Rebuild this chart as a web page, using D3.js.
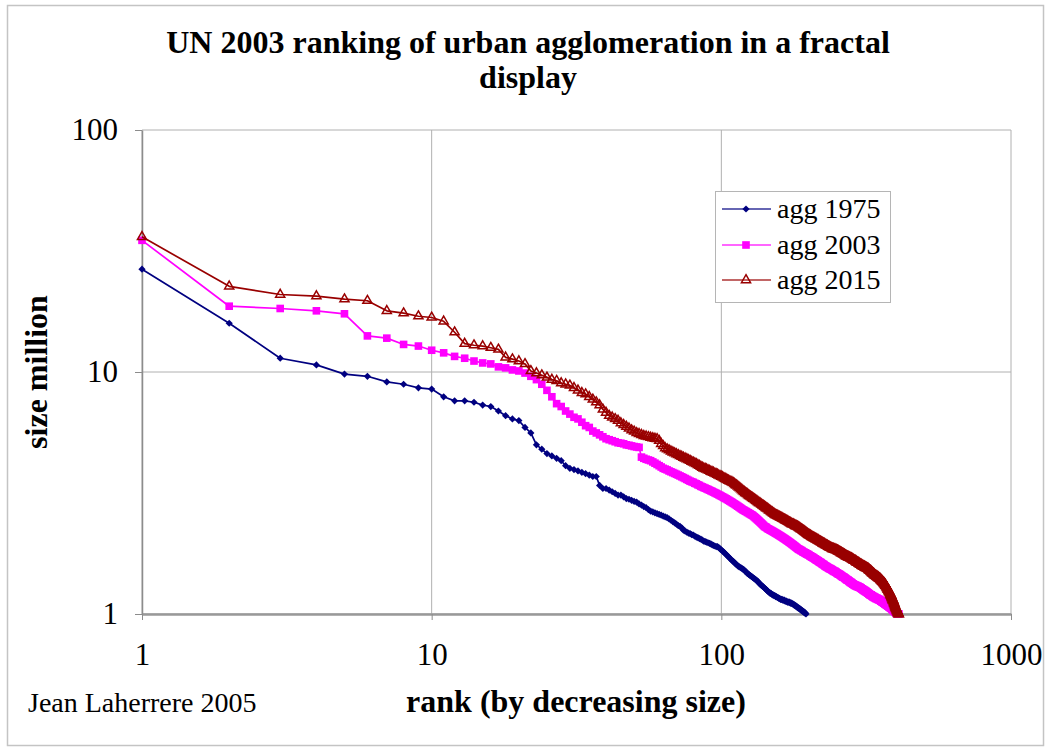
<!DOCTYPE html>
<html>
<head>
<meta charset="utf-8">
<script src="https://cdn.jsdelivr.net/npm/d3@7"></script>
<style>
  body { margin: 0; background: #fff; }
  svg { display: block; }
  text { font-family: "Liberation Serif", "Times New Roman", serif; fill: #000; }
</style>
</head>
<body>
<svg id="chart" width="1051" height="750"></svg>
<script>
// Axis ticks and labels
const xTicks = [1, 10, 100, 1000];
const xTickLabels = ["1", "10", "100", "1000"];
const yTicks = [1, 10, 100];
const yTickLabels = ["1", "10", "100"];
const seriesNames = ["agg 1975", "agg 2003", "agg 2015"];

// Urban agglomeration sizes (million) by rank, largest first
const agg1975 = [
  26.6,15.9,11.4,10.7,9.8,9.6,9.1,8.9,8.6,8.5,
  7.9,7.6,7.6,7.5,7.3,7.2,6.9,6.6,6.4,6.3,
  5.9,5.6,5.0,4.8,4.6,4.5,4.4,4.3,4.1,4.0,
  3.95,3.9,3.85,3.8,3.75,3.7,3.7,3.4,3.3,3.3,
  3.25,3.2,3.15,3.1,3.1,3.05,3.0,2.98,2.95,2.92,
  2.9,2.85,2.82,2.78,2.75,2.7,2.66,2.64,2.62,2.6,
  2.58,2.56,2.54,2.52,2.5,2.47,2.44,2.41,2.38,2.35,
  2.32,2.3,2.27,2.22,2.2,2.18,2.16,2.15,2.13,2.12,
  2.1,2.08,2.07,2.05,2.04,2.02,2.0,1.99,1.98,1.97,
  1.96,1.95,1.93,1.92,1.91,1.9,1.9,1.88,1.86,1.84,
  1.82,1.8,1.78,1.76,1.74,1.72,1.7,1.68,1.66,1.65,
  1.63,1.61,1.6,1.58,1.57,1.56,1.55,1.54,1.53,1.52,
  1.5,1.49,1.47,1.46,1.45,1.44,1.43,1.42,1.41,1.4,
  1.39,1.38,1.37,1.36,1.34,1.33,1.32,1.31,1.3,1.29,
  1.28,1.27,1.26,1.25,1.24,1.23,1.22,1.22,1.21,1.2,
  1.2,1.19,1.19,1.18,1.18,1.17,1.17,1.16,1.16,1.15,
  1.15,1.15,1.14,1.14,1.14,1.13,1.13,1.13,1.12,1.12,
  1.12,1.12,1.11,1.11,1.11,1.1,1.1,1.09,1.09,1.08,
  1.08,1.07,1.07,1.06,1.06,1.05,1.05,1.04,1.04,1.03,
  1.03,1.02,1.02,1.01,1.01,1.0
];

const agg2003 = [
  35.0,18.7,18.3,17.9,17.4,14.1,13.8,13.0,12.8,12.3,
  12.0,11.6,11.4,11.1,10.9,10.8,10.5,10.4,10.2,10.1,
  9.9,9.6,9.3,8.9,8.4,7.9,7.4,7.2,6.9,6.7,
  6.5,6.4,6.2,6.0,5.9,5.7,5.6,5.5,5.4,5.3,
  5.25,5.2,5.15,5.1,5.08,5.05,5.0,4.98,4.95,4.92,
  4.9,4.88,4.45,4.4,4.36,4.33,4.3,4.25,4.2,4.15,
  4.1,4.05,4.0,3.97,3.94,3.9,3.87,3.84,3.81,3.78,
  3.75,3.72,3.69,3.66,3.63,3.6,3.57,3.54,3.52,3.5,
  3.47,3.45,3.42,3.4,3.37,3.35,3.33,3.31,3.29,3.27,
  3.25,3.23,3.21,3.19,3.17,3.15,3.13,3.11,3.09,3.07,
  3.05,3.03,3.01,2.99,2.97,2.95,2.93,2.91,2.89,2.87,
  2.85,2.83,2.81,2.79,2.77,2.75,2.73,2.71,2.69,2.68,
  2.66,2.65,2.63,2.62,2.6,2.59,2.57,2.56,2.54,2.52,
  2.5,2.48,2.46,2.44,2.42,2.4,2.38,2.36,2.34,2.32,
  2.3,2.29,2.28,2.26,2.25,2.24,2.23,2.22,2.21,2.2,
  2.19,2.18,2.17,2.16,2.15,2.14,2.13,2.12,2.11,2.1,
  2.09,2.08,2.07,2.06,2.05,2.04,2.03,2.02,2.01,2.0,
  1.99,1.98,1.97,1.96,1.95,1.94,1.93,1.92,1.91,1.9,
  1.89,1.88,1.87,1.86,1.85,1.85,1.84,1.83,1.83,1.82,
  1.81,1.8,1.8,1.79,1.79,1.78,1.77,1.77,1.76,1.76,
  1.75,1.74,1.74,1.73,1.72,1.72,1.71,1.71,1.7,1.69,
  1.69,1.68,1.67,1.67,1.66,1.66,1.65,1.64,1.64,1.63,
  1.63,1.62,1.61,1.61,1.6,1.6,1.59,1.58,1.58,1.57,
  1.57,1.56,1.56,1.55,1.55,1.54,1.54,1.54,1.53,1.53,
  1.52,1.52,1.51,1.51,1.5,1.5,1.5,1.49,1.49,1.48,
  1.48,1.47,1.47,1.46,1.46,1.46,1.45,1.45,1.44,1.44,
  1.43,1.43,1.42,1.42,1.42,1.41,1.41,1.4,1.4,1.39,
  1.39,1.38,1.38,1.38,1.37,1.37,1.36,1.36,1.35,1.35,
  1.35,1.34,1.34,1.33,1.33,1.33,1.32,1.32,1.32,1.31,
  1.31,1.31,1.31,1.3,1.3,1.3,1.3,1.29,1.29,1.29,
  1.29,1.28,1.28,1.28,1.27,1.27,1.27,1.26,1.26,1.26,
  1.25,1.25,1.25,1.24,1.24,1.24,1.23,1.23,1.23,1.22,
  1.22,1.22,1.21,1.21,1.21,1.2,1.2,1.2,1.2,1.19,
  1.19,1.19,1.18,1.18,1.18,1.18,1.17,1.17,1.17,1.17,
  1.16,1.16,1.16,1.16,1.16,1.15,1.15,1.15,1.15,1.15,
  1.14,1.14,1.14,1.14,1.13,1.13,1.13,1.13,1.12,1.12,
  1.12,1.12,1.11,1.11,1.11,1.11,1.1,1.1,1.1,1.1,
  1.09,1.09,1.09,1.09,1.08,1.08,1.08,1.08,1.07,1.07,
  1.07,1.07,1.06,1.06,1.06,1.06,1.05,1.05,1.05,1.04,
  1.04,1.04,1.03,1.03,1.03,1.03,1.02,1.02,1.02,1.02,
  1.01,1.01,1.01,1.01,1.01,1.0,1.0,1.0,1.0,1.0
];

const agg2015 = [
  36.2,22.6,20.9,20.6,20.0,19.7,17.9,17.5,17.0,16.8,
  16.2,14.6,13.1,12.9,12.8,12.6,12.4,11.5,11.3,11.1,
  10.8,10.1,9.9,9.7,9.5,9.3,9.2,9.0,8.9,8.8,
  8.6,8.4,8.2,8.1,7.9,7.7,7.5,7.3,7.0,6.8,
  6.6,6.5,6.4,6.3,6.15,6.05,5.95,5.85,5.75,5.68,
  5.6,5.55,5.5,5.45,5.42,5.39,5.36,5.33,5.31,5.29,
  5.2,5.05,4.95,4.85,4.8,4.75,4.7,4.66,4.62,4.58,
  4.54,4.5,4.47,4.43,4.4,4.37,4.33,4.3,4.26,4.23,
  4.2,4.17,4.13,4.1,4.06,4.03,4.0,3.98,3.96,3.93,
  3.91,3.88,3.86,3.84,3.81,3.79,3.77,3.74,3.72,3.7,
  3.68,3.65,3.63,3.6,3.58,3.56,3.54,3.52,3.5,3.48,
  3.45,3.42,3.4,3.37,3.34,3.31,3.28,3.25,3.22,3.2,
  3.17,3.15,3.13,3.1,3.08,3.06,3.04,3.02,3.0,2.98,
  2.96,2.94,2.92,2.9,2.88,2.87,2.85,2.83,2.81,2.8,
  2.78,2.76,2.74,2.73,2.71,2.69,2.68,2.66,2.64,2.63,
  2.61,2.6,2.58,2.57,2.56,2.55,2.54,2.53,2.52,2.51,
  2.5,2.49,2.48,2.47,2.46,2.45,2.44,2.43,2.42,2.41,
  2.4,2.39,2.38,2.37,2.36,2.35,2.35,2.34,2.33,2.32,
  2.31,2.31,2.3,2.29,2.28,2.27,2.26,2.25,2.24,2.23,
  2.22,2.21,2.2,2.19,2.18,2.17,2.16,2.15,2.14,2.13,
  2.12,2.12,2.11,2.1,2.09,2.08,2.08,2.07,2.06,2.06,
  2.05,2.04,2.04,2.03,2.02,2.02,2.01,2.0,2.0,1.99,
  1.98,1.98,1.97,1.96,1.96,1.95,1.95,1.94,1.93,1.93,
  1.92,1.92,1.91,1.9,1.9,1.89,1.89,1.88,1.88,1.87,
  1.87,1.86,1.86,1.86,1.85,1.85,1.85,1.84,1.84,1.84,
  1.83,1.83,1.82,1.82,1.81,1.81,1.8,1.8,1.79,1.79,
  1.78,1.78,1.77,1.77,1.76,1.76,1.75,1.75,1.74,1.74,
  1.73,1.73,1.73,1.72,1.72,1.71,1.71,1.71,1.7,1.7,
  1.7,1.69,1.69,1.68,1.68,1.67,1.67,1.66,1.66,1.66,
  1.65,1.65,1.64,1.64,1.63,1.63,1.63,1.62,1.62,1.61,
  1.61,1.6,1.6,1.6,1.59,1.59,1.58,1.58,1.58,1.57,
  1.57,1.57,1.56,1.56,1.56,1.55,1.55,1.55,1.54,1.54,
  1.54,1.53,1.53,1.52,1.52,1.51,1.51,1.5,1.5,1.49,
  1.49,1.48,1.48,1.47,1.47,1.46,1.46,1.45,1.45,1.44,
  1.44,1.44,1.43,1.43,1.43,1.42,1.42,1.42,1.41,1.41,
  1.4,1.4,1.4,1.39,1.39,1.38,1.38,1.37,1.37,1.36,
  1.36,1.35,1.35,1.34,1.34,1.33,1.33,1.32,1.31,1.31,
  1.3,1.29,1.29,1.28,1.27,1.26,1.26,1.25,1.24,1.23,
  1.23,1.22,1.21,1.2,1.2,1.19,1.18,1.17,1.16,1.15,
  1.14,1.14,1.13,1.12,1.11,1.1,1.09,1.08,1.07,1.06,
  1.06,1.05,1.04,1.03,1.03,1.02,1.01,1.01,1.0,1.0
];

const plot = { left: 142, right: 1011, top: 130, bottom: 614 };
const x = d3.scaleLog().domain([1, 1000]).range([plot.left, plot.right]);
const y = d3.scaleLog().domain([1, 100]).range([plot.bottom, plot.top]);

const svg = d3.select("#chart");

// Chart frame
svg.append("rect")
  .attr("x", 7.5).attr("y", 5.5).attr("width", 1036).attr("height", 740)
  .attr("fill", "#fff").attr("stroke", "#c4c4c4").attr("stroke-width", 1.5);

// Titles
const title = svg.append("text")
  .attr("text-anchor", "middle")
  .attr("font-size", 32).attr("font-weight", "bold");
title.append("tspan").attr("x", 528).attr("y", 53).text("UN 2003 ranking of urban agglomeration in a fractal");
title.append("tspan").attr("x", 528).attr("y", 88).text("display");

// Gridlines (decades) including the plot border
const grid = svg.append("g").attr("stroke", "#b0b0b0").attr("stroke-width", 1);
grid.selectAll("line.gx").data(xTicks).join("line")
  .attr("x1", d => x(d)).attr("x2", d => x(d))
  .attr("y1", plot.top).attr("y2", plot.bottom);
grid.selectAll("line.gy").data(yTicks).join("line")
  .attr("x1", plot.left).attr("x2", plot.right)
  .attr("y1", d => y(d)).attr("y2", d => y(d));

// Axes
const xAxis = d3.axisBottom(x)
  .tickValues(xTicks)
  .tickFormat((d, i) => xTickLabels[i])
  .tickSize(6).tickSizeOuter(0).tickPadding(23);
const gx = svg.append("g").attr("transform", `translate(0,${plot.bottom})`).call(xAxis);

const yAxis = d3.axisLeft(y)
  .tickValues(yTicks)
  .tickFormat((d, i) => yTickLabels[i])
  .tickSize(7).tickSizeOuter(0).tickPadding(17);
const gy = svg.append("g").attr("transform", `translate(${plot.left},0)`).call(yAxis);

[gx, gy].forEach(g => {
  g.select(".domain").attr("stroke", "#8c8c8c").attr("stroke-width", 1.5);
  g.selectAll(".tick line").attr("stroke", "#8c8c8c");
  g.selectAll(".tick text")
    .attr("font-family", '"Liberation Serif", "Times New Roman", serif')
    .attr("font-size", 31).attr("fill", "#000");
});
gx.select(".domain").attr("stroke-width", 2.5).attr("stroke", "#999");

// Axis titles and credit
svg.append("text")
  .attr("transform", "translate(47,372) rotate(-90)")
  .attr("text-anchor", "middle")
  .attr("font-size", 32).attr("font-weight", "bold")
  .text("size million");

svg.append("text")
  .attr("x", 576).attr("y", 712)
  .attr("text-anchor", "middle")
  .attr("font-size", 32).attr("font-weight", "bold")
  .text("rank (by decreasing size)");

svg.append("text")
  .attr("x", 28).attr("y", 712)
  .attr("font-size", 28)
  .text("Jean Laherrere 2005");

// Series
const series = [
  { name: seriesNames[0], values: agg1975, color: "#000080", marker: "diamond" },
  { name: seriesNames[1], values: agg2003, color: "#ff00ff", marker: "square" },
  { name: seriesNames[2], values: agg2015, color: "#990000", marker: "triangle" }
];

const markerPath = {
  diamond: d3.symbol().type(d3.symbolSquare).size(26)(),
  square: d3.symbol().type(d3.symbolSquare).size(58)(),
  triangle: d3.symbol().type(d3.symbolTriangle).size(36)()
};

function drawMarker(sel, s) {
  sel.attr("d", markerPath[s.marker]);
  if (s.marker === "triangle") {
    sel.attr("fill", "none").attr("stroke", s.color).attr("stroke-width", 1.5);
  } else {
    sel.attr("fill", s.color).attr("stroke", "none");
  }
}

function placeMarker(s, cx, cy) {
  return s.marker === "diamond"
    ? `translate(${cx},${cy}) rotate(45)`
    : `translate(${cx},${cy})`;
}

const line = d3.line()
  .x((d, i) => x(i + 1))
  .y(d => y(d));

series.forEach(s => {
  const g = svg.append("g");
  g.append("path")
    .datum(s.values)
    .attr("fill", "none")
    .attr("stroke", s.color)
    .attr("stroke-width", 1.7)
    .attr("stroke-linejoin", "round")
    .attr("d", line);
  g.selectAll("path.m").data(s.values).join("path")
    .attr("class", "m")
    .attr("transform", (d, i) => placeMarker(s, x(i + 1), y(d)))
    .call(drawMarker, s);
});

// Legend
const legend = svg.append("g");
legend.append("rect")
  .attr("x", 715.5).attr("y", 191.5).attr("width", 175).attr("height", 111)
  .attr("fill", "#fff").attr("stroke", "#b5b5b5").attr("stroke-width", 1);
const rowY = [209, 245, 280];
series.forEach((s, i) => {
  const ly = rowY[i];
  legend.append("line")
    .attr("x1", 722).attr("x2", 771).attr("y1", ly).attr("y2", ly)
    .attr("stroke", s.color).attr("stroke-width", 2).attr("stroke-opacity", 0.6);
  legend.append("path")
    .attr("transform", placeMarker(s, 746, ly))
    .call(drawMarker, s);
  legend.append("text")
    .attr("x", 777).attr("y", ly + 9)
    .attr("font-size", 28)
    .text(s.name);
});
</script>
</body>
</html>
